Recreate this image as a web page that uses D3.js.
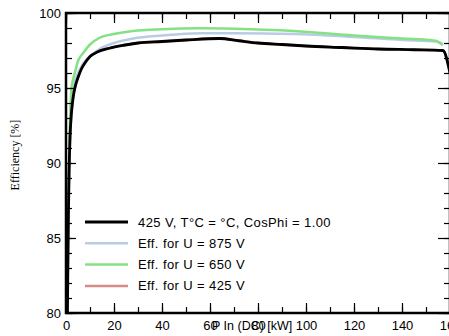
<!DOCTYPE html>
<html>
<head>
<meta charset="utf-8">
<script src="https://cdn.jsdelivr.net/npm/d3@7"></script>
<style>
  body { margin: 0; background: #fff; }
  svg { display: block; }
  text { font-family: "Liberation Sans", Arial, sans-serif; }
</style>
</head>
<body>
<div id="chart"></div>
<script>
var width = 449,
    height = 336;

// P In (DC) in kW and efficiency in %
var black_p   = [0.6, 0.8, 1.0, 1.3, 1.7, 2.2, 3, 4, 5, 6.5, 8, 10, 13, 18, 24, 30, 40, 50, 64, 72, 80, 90, 100, 115, 130, 145, 157, 160];
var black_eff = [80, 83.5, 86.5, 89.5, 91.8, 93.2, 94.4, 95.2, 95.7, 96.3, 96.7, 97.1, 97.4, 97.65, 97.85, 98.0, 98.1, 98.2, 98.3, 98.15, 98.0, 97.9, 97.8, 97.7, 97.6, 97.55, 97.5, 96.0];

var u875_p   = [0.5, 0.8, 1.2, 1.7, 2.3, 3, 4, 5, 7, 10, 14, 20, 28, 40, 56, 70, 95, 120, 140, 154, 157];
var u875_eff = [80, 84.5, 89, 92.3, 94.3, 95.0, 95.6, 96.0, 96.6, 97.1, 97.6, 98.0, 98.3, 98.5, 98.65, 98.65, 98.6, 98.4, 98.2, 98.1, 97.85];

var u650_p   = [0.5, 0.8, 1.2, 1.7, 2.3, 3, 4, 5, 7, 10, 14, 20, 28, 40, 56, 70, 95, 120, 140, 154, 157];
var u650_eff = [80, 85, 89.5, 93, 95, 95.6, 96.2, 96.8, 97.3, 97.9, 98.35, 98.6, 98.8, 98.92, 98.98, 98.95, 98.8, 98.5, 98.3, 98.15, 97.9];

// 425 V curve sits right under the black one
var u425_p   = [0.6, 0.8, 1.0, 1.3, 1.7, 2.2, 3, 4, 5, 6.5, 8, 10, 13, 18, 24, 30, 40, 50, 64, 72, 80, 90, 100, 115, 130, 145, 157, 160];
var u425_eff = [80, 83.5, 86.5, 89.5, 91.8, 93.2, 94.4, 95.2, 95.7, 96.3, 96.7, 97.1, 97.4, 97.65, 97.85, 98.0, 98.1, 98.2, 98.3, 98.15, 98.0, 97.9, 97.8, 97.7, 97.6, 97.55, 97.5, 96.0];

var x_ticks = [0, 20, 40, 60, 80, 100, 120, 140, 160];
var y_ticks = [80, 85, 90, 95, 100];
var legend_labels = ["425 V, T°C = °C, CosPhi = 1.00", "Eff. for U = 875 V", "Eff. for U = 650 V", "Eff. for U = 425 V"];

var margin = {top: 13, right: -1, bottom: 23, left: 66};
var w = width - margin.left - margin.right,
    h = height - margin.top - margin.bottom;

var svg = d3.select("#chart").append("svg")
    .attr("width", width)
    .attr("height", height);

var g = svg.append("g").attr("transform", "translate(" + margin.left + "," + margin.top + ")");

var x = d3.scaleLinear().domain([0, 160]).range([0, w]);
var y = d3.scaleLinear().domain([80, 100]).range([h, 0]);

function zip(ps, es){
    return ps.map(function(p, i){ return [p, es[i]]; });
}

var series = [
    {data: zip(u425_p, u425_eff), color: "#d98a86", width: 2.5},
    {data: zip(u875_p, u875_eff), color: "#b9cbe6", width: 2.5},
    {data: zip(u650_p, u650_eff), color: "#84e184", width: 2.5},
    {data: zip(black_p, black_eff), color: "#000", width: 2.8}
];

var line = d3.line()
    .x(function(d){ return x(d[0]); })
    .y(function(d){ return y(d[1]); })
    .curve(d3.curveMonotoneX);

g.selectAll(".curve")
    .data(series)
    .enter().append("path")
    .attr("class", "curve")
    .attr("fill", "none")
    .attr("stroke", function(d){ return d.color; })
    .attr("stroke-width", function(d){ return d.width; })
    .attr("stroke-linejoin", "round")
    .attr("d", function(d){ return line(d.data); });

// axes: ticks pointing inward on all four sides
var x_minor = d3.range(0, 161, 10),
    y_minor = d3.range(80, 101, 1);

g.append("g")
    .attr("transform", "translate(0," + h + ")")
    .call(d3.axisBottom(x).tickValues(x_minor).tickSize(-6).tickFormat(""));
g.append("g")
    .attr("transform", "translate(0," + h + ")")
    .call(d3.axisBottom(x).tickValues(x_ticks).tickSize(-10).tickPadding(8).tickFormat(d3.format("d")));
g.append("g")
    .call(d3.axisTop(x).tickValues(x_minor).tickSize(-6).tickFormat(""));
g.append("g")
    .call(d3.axisTop(x).tickValues(x_ticks).tickSize(-10).tickFormat(""));

g.append("g")
    .call(d3.axisLeft(y).tickValues(y_minor).tickSize(-6).tickFormat(""));
g.append("g")
    .call(d3.axisLeft(y).tickValues(y_ticks).tickSize(-10).tickPadding(5).tickFormat(d3.format("d")));
g.append("g")
    .attr("transform", "translate(" + w + ",0)")
    .call(d3.axisRight(y).tickValues(y_minor).tickSize(-6).tickFormat(""));
g.append("g")
    .attr("transform", "translate(" + w + ",0)")
    .call(d3.axisRight(y).tickValues(y_ticks).tickSize(-12).tickFormat(""));

g.selectAll(".domain").remove();
g.selectAll(".tick line").attr("stroke", "#000").attr("stroke-width", 1.2);
g.selectAll(".tick text")
    .attr("fill", "#000")
    .style("font-size", "13px")
    .style("font-family", "'Liberation Sans', Arial, sans-serif");

// frame
g.append("rect")
    .attr("x", 0).attr("y", 0)
    .attr("width", w).attr("height", h)
    .attr("fill", "none")
    .attr("stroke", "#000")
    .attr("stroke-width", 2.5);

// axis titles
g.append("text")
    .attr("x", 146)
    .attr("y", h + 17)
    .attr("font-size", "12.5px")
    .text("P In (DC) [kW]");

svg.append("text")
    .attr("transform", "translate(19,155) rotate(-90)")
    .attr("text-anchor", "middle")
    .style("font-family", "'Liberation Serif', 'Times New Roman', serif")
    .attr("font-size", "12px")
    .text("Efficiency [%]");

// legend
var legend = svg.append("g").attr("transform", "translate(85,222)");
var legend_colors = ["#000", "#b9cbe6", "#84e184", "#d98a86"];
var row = legend.selectAll(".row")
    .data(legend_labels)
    .enter().append("g")
    .attr("class", "row")
    .attr("transform", function(d, i){ return "translate(0," + (i * 21.3) + ")"; });
row.append("line")
    .attr("x1", 0).attr("x2", 43)
    .attr("stroke", function(d, i){ return legend_colors[i]; })
    .attr("stroke-width", function(d, i){ return i == 0 ? 3 : 2.5; });
row.append("text")
    .attr("x", 53)
    .attr("y", 4.5)
    .attr("font-size", "13px")
    .attr("letter-spacing", "0.4px")
    .text(function(d){ return d; });
</script>
</body>
</html>
